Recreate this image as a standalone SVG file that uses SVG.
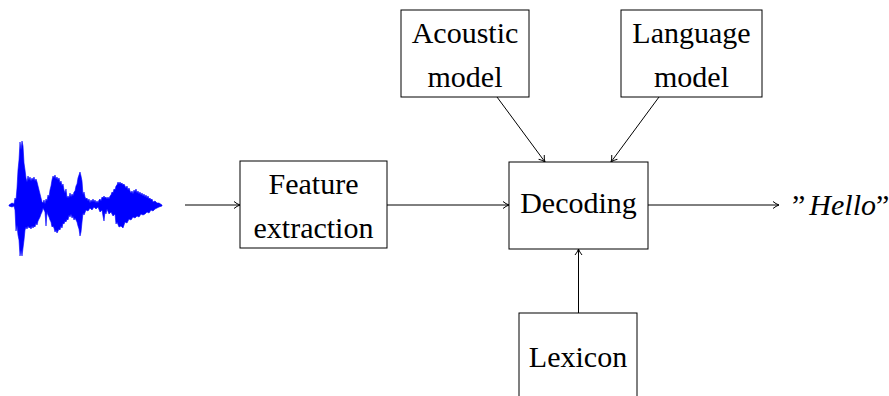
<svg xmlns="http://www.w3.org/2000/svg" width="889" height="396" viewBox="0 0 889 396" font-family="Liberation Serif">
<style>
.box{fill:#fff;stroke:#000;stroke-width:1}
.lbl{font-size:30px;fill:#000;text-anchor:middle}
.edge{stroke:#000;stroke-width:1;fill:none;marker-end:url(#arr)}
</style>
<defs>
<marker id="arr" viewBox="0 0 10 10" refX="9" refY="5" markerWidth="10" markerHeight="10" markerUnits="userSpaceOnUse" orient="auto">
<path d="M3,1.5 Q6,4 9,5 Q6,6 3,8.5" fill="none" stroke="#000" stroke-width="1"/>
</marker>
</defs>
<g id="waveform">
<polygon fill="#0000ff" stroke="#0000ff" stroke-width="0.6" points="9,205 12,203 14,204 15,198 16,200 17,188 18,170 19,160 20,142 21,150 22,141 23,146 24,163 25,170 26,178 27,182 28,176 29,180 30,177 31,181 32,178 33,180 34,177 35,181 36,179 37,182 38,186 39,190 40,194 41,198 42,202 43,203 44,200 45,204 46,199 47,201 48,195 49,197 50,190 51,186 52,180 53,176 54,178 55,175 56,179 57,177 58,180 59,178 60,183 61,181 62,186 63,184 64,190 65,193 66,189 67,198 68,196 69,198 70,193 71,197 72,194 73,196 74,192 75,191 76,186 77,184 78,178 79,175 80,172 81,176 82,181 83,195 84,192 85,197 86,199 87,198 88,201 89,199 90,203 91,200 92,202 93,199 94,202 95,200 96,203 97,201 98,203 99,200 100,199 101,201 102,197 103,198 104,196 105,198 106,197 107,199 108,197 109,199 110,196 111,195 112,192 113,193 114,189 115,190 116,186 117,185 118,182 119,184 120,182 121,184 122,183 123,185 124,184 125,186 126,188 127,186 128,190 129,188 130,191 131,193 132,191 133,194 134,190 135,192 136,189 137,193 138,191 139,194 140,192 141,195 142,193 143,196 144,194 145,197 146,195 147,198 148,196 149,199 150,198 151,200 152,199 153,202 155,201 157,203 159,203 162,205 162,206 159,207 157,208 155,209 153,211 151,210 149,213 147,212 145,214 143,215 141,214 139,217 137,216 135,218 133,217 131,220 129,219 127,223 125,222 123,228 121,226 119,227 117,222 116,224 115,214 113,216 111,212 109,214 107,209 106,214 105,212 104,221 103,216 102,210 100,212 98,207 96,209 94,207 92,210 90,208 88,211 86,210 84,215 83,213 82,222 81,232 80,236 79,229 78,226 77,222 76,220 75,218 74,220 73,216 72,218 71,214 70,217 69,215 68,220 67,219 66,222 65,221 64,224 63,223 62,228 61,226 60,230 59,229 58,231 57,233 56,230 55,232 54,228 53,226 52,227 51,222 50,220 49,217 48,215 47,212 46,226 45,212 44,210 43,208 42,212 41,214 40,217 39,219 38,221 37,225 36,223 35,227 34,226 33,228 32,226 31,229 30,227 29,228 28,226 27,229 26,227 25,230 24,240 23,248 22,256 21,250 20,256 19,240 18,235 17,225 16,231 15,210 14,206 12,207 9,206"/>
</g>
<g id="connectors">
<line class="edge" x1="185" y1="205" x2="240" y2="205"/>
<line class="edge" x1="387" y1="205" x2="509" y2="205"/>
<line class="edge" x1="648" y1="205" x2="779" y2="205"/>
<line class="edge" x1="497" y1="97" x2="545" y2="162"/>
<line class="edge" x1="659" y1="97" x2="611" y2="162"/>
<line class="edge" x1="578.5" y1="313" x2="578.5" y2="249"/>
</g>
<g id="feature">
<rect class="box" x="240" y="161" width="147" height="87"/>
<text class="lbl" font-family="Liberation Serif" x="313.5" y="194">Feature</text>
<text class="lbl" font-family="Liberation Serif" x="313.5" y="238">extraction</text>
</g>
<g id="acoustic">
<rect class="box" x="401" y="10" width="128" height="87"/>
<text class="lbl" font-family="Liberation Serif" x="465" y="43">Acoustic</text>
<text class="lbl" font-family="Liberation Serif" x="465" y="87">model</text>
</g>
<g id="language">
<rect class="box" x="621" y="10" width="141" height="87"/>
<text class="lbl" font-family="Liberation Serif" x="691.5" y="43">Language</text>
<text class="lbl" font-family="Liberation Serif" x="691.5" y="87">model</text>
</g>
<g id="decoding">
<rect class="box" x="509" y="162" width="139" height="87"/>
<text class="lbl" font-family="Liberation Serif" x="578.5" y="213">Decoding</text>
</g>
<g id="lexicon">
<rect class="box" x="519" y="313" width="118" height="100"/>
<text class="lbl" font-family="Liberation Serif" x="578" y="367">Lexicon</text>
</g>
<g id="output">
<text x="792" y="215" font-family="Liberation Serif" font-size="30" fill="#000">”<tspan dx="4" font-style="italic">Hello</tspan>”</text>
</g>
</svg>
